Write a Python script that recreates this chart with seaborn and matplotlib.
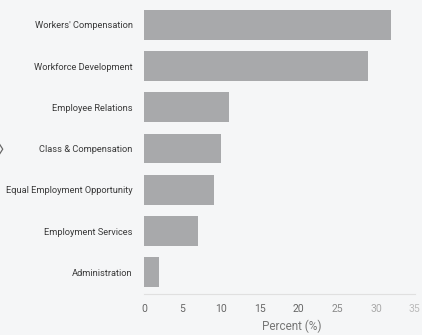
import matplotlib
matplotlib.use("Agg")
import matplotlib.pyplot as plt
import seaborn as sns
import pandas as pd

divisions = ["Workers' Compensation", "Workforce Development", "Employee Relations",
             "Class & Compensation", "Equal Employment Opportunity",
             "Employment Services", "Administration"]
percent = [32, 29, 11, 10, 9, 7, 2]
ticks = [0, 5, 10, 15, 20, 25, 30, 35]
tick_colors = ["#666666"] * 5 + ["#8a8a8a", "#aaaaaa", "#bbbbbb"]

df = pd.DataFrame({"division": divisions, "percent": percent})

sns.set_style("white")
plt.rcParams['font.family'] = ["Roboto", "DejaVu Sans"]

bg = "#f5f6f7"
fig = plt.figure(figsize=(4.22, 3.35), dpi=100, facecolor=bg)
ax = fig.add_axes([0.341, 0.122, 0.6415, 0.878])
ax.set_facecolor(bg)

sns.barplot(ax=ax, data=df, x="percent", y="division", color="#a8a9ab",
            width=0.72, saturation=1, edgecolor="none")

ax.set_xlim(0, 35)
ax.set_ylim(6.53, -0.6)
ax.set_xticks(ticks)
ax.set_xticklabels([str(t) for t in ticks], fontsize=7.5)
for lbl, c in zip(ax.get_xticklabels(), tick_colors):
    lbl.set_color(c)
ax.tick_params(axis="x", length=3, color="#d0d0d0", pad=4)
ax.tick_params(axis="y", length=0, labelsize=6.7, labelcolor="#3a3a3a", pad=8)
ax.set_ylabel("")
ax.set_xlabel("Percent (%)", fontsize=8.5, color="#777777")
ax.xaxis.set_label_coords(0.545, -0.085)

for s in ["top", "right", "left"]:
    ax.spines[s].set_visible(False)
ax.spines["bottom"].set_color("#e0e0e0")
ax.spines["bottom"].set_linewidth(0.8)

# carousel arrow at the left edge
fig.text(-0.012, 0.55, "\u3009", fontsize=13, color="#666666", ha="left", va="center",
         family=["Noto Sans CJK SC", "DejaVu Sans"])

fig.savefig("out.png", dpi=100, facecolor=bg)
